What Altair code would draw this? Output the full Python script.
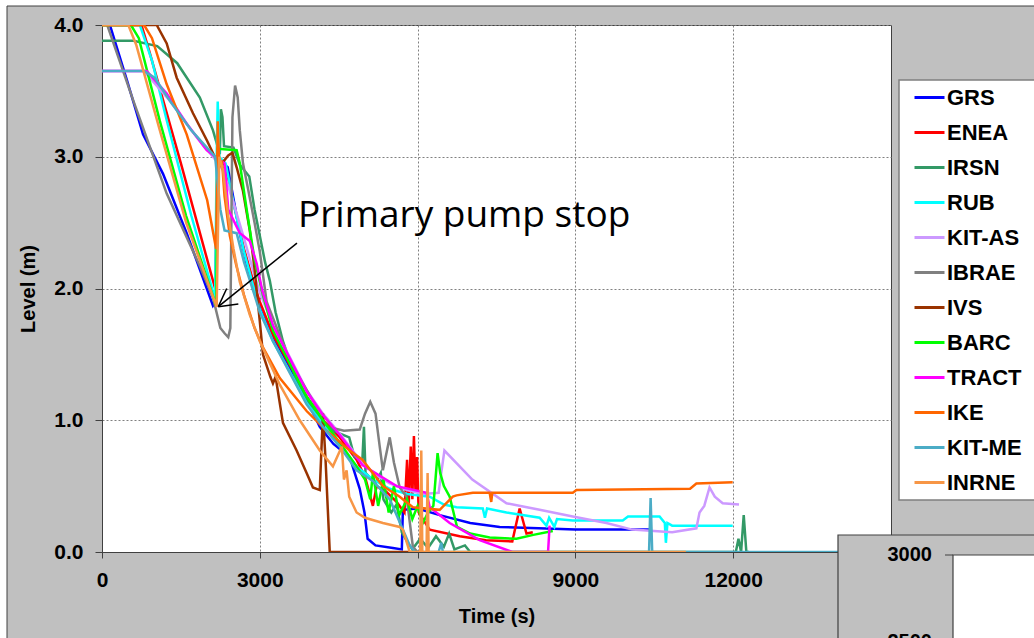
import altair as alt
import pandas as pd

# ---------------- data (time s, level m) ----------------
SERIES = ["GRS", "ENEA", "IRSN", "RUB", "KIT-AS", "IBRAE", "IVS", "BARC",
          "TRACT", "IKE", "KIT-ME", "INRNE"]
COLORS = ["#0000ff", "#ff0000", "#339966", "#00ffff", "#cc99ff", "#808080",
          "#993300", "#00ff00", "#ff00ff", "#ff6600", "#4bacc6", "#f79646"]

GRS = [(150, 4.0), (475, 3.58), (780, 3.17), (1160, 2.87), (1610, 2.42), (2110, 1.87),
       (2160, 1.9), (2200, 2.98), (2390, 2.92), (2620, 2.42), (2800, 2.1), (3000, 1.85),
       (3250, 1.62), (3570, 1.4), (3890, 1.16), (4140, 0.95), (4400, 0.82), (4710, 0.72),
       (4900, 0.48), (4990, 0.3), (5050, 0.1), (5200, 0.05), (5530, 0.03), (5700, 0.02),
       (5720, 0.32), (6000, 0.33), (6420, 0.28), (7000, 0.22), (7560, 0.19), (8300, 0.18),
       (9000, 0.17), (10400, 0.17)]
ENEA = [(0, 4.0), (750, 4.0), (900, 3.8), (1500, 2.95), (2150, 2.0), (2200, 2.95),
        (2350, 2.9), (2500, 2.65), (2700, 2.3), (2900, 2.02), (3000, 1.9), (3250, 1.65),
        (3570, 1.42), (3890, 1.18), (4200, 1.0), (4520, 0.87), (4840, 0.7), (5000, 0.57),
        (5150, 0.35), (5220, 0.5), (5400, 0.46), (5600, 0.38), (5750, 0.3), (5800, 0.7),
        (5830, 0.35), (5870, 0.8), (5900, 0.4), (5930, 0.88), (5960, 0.45), (5990, 0.72),
        (6020, 0.3), (6100, 0.25), (6230, 0.17), (6800, 0.12), (7300, 0.09), (7800, 0.08),
        (7940, 0.33), (8070, 0.14), (8190, 0.15)]
IRSN = [(0, 3.88), (600, 3.88), (1050, 3.84), (1430, 3.71), (1860, 3.45), (2110, 3.2),
        (2240, 3.02), (2260, 3.36), (2290, 3.3), (2320, 3.08), (2500, 3.07), (2620, 2.94),
        (2800, 2.85), (2900, 2.6), (3000, 2.4), (3100, 2.2), (3190, 2.06), (3300, 1.82),
        (3440, 1.6), (3700, 1.3), (3900, 1.15), (4140, 1.0), (4400, 0.92), (4700, 0.87),
        (4800, 0.72), (4950, 0.7), (4980, 0.95), (5010, 0.6), (5200, 0.52), (5300, 0.6),
        (5350, 0.4), (5500, 0.3), (5600, 0.36), (5700, 0.15), (5800, 0.08), (5900, 0.02),
        (6050, 0.1), (6200, 0.03), (6350, 0.12), (6500, 0.04), (6600, 0.14), (6700, 0.02),
        (6900, 0.05), (7000, 0.0), (12050, 0.0), (12100, 0.1), (12150, 0.0), (12200, 0.28),
        (12250, 0.0), (12300, 0.0)]
RUB = [(0, 4.0), (720, 4.0), (950, 3.73), (1235, 3.27), (1700, 2.55), (2150, 1.92),
       (2180, 3.0), (2200, 3.42), (2230, 3.0), (2350, 2.95), (2500, 2.65), (2700, 2.28),
       (2900, 1.98), (3000, 1.84), (3250, 1.6), (3570, 1.37), (3890, 1.13), (4200, 0.97),
       (4520, 0.82), (4840, 0.65), (5150, 0.55), (5470, 0.48), (5800, 0.44), (6230, 0.42),
       (6500, 0.36), (6740, 0.34), (7240, 0.33), (7280, 0.26), (7320, 0.33), (7690, 0.3),
       (8320, 0.26), (8450, 0.2), (8500, 0.26), (8600, 0.19), (8650, 0.25), (8950, 0.24),
       (9900, 0.24), (10000, 0.27), (10600, 0.27), (10700, 0.22), (10720, 0.07),
       (10750, 0.22), (10840, 0.2), (11990, 0.2)]
KIT_AS = [(0, 3.65), (800, 3.65), (1300, 3.42), (1800, 3.15), (2150, 2.98), (2300, 2.9),
          (2500, 2.65), (2700, 2.38), (2900, 2.1), (3000, 1.97), (3250, 1.72), (3570, 1.48),
          (3890, 1.23), (4200, 1.05), (4520, 0.9), (4840, 0.73), (5150, 0.6), (5470, 0.52),
          (5800, 0.47), (6100, 0.44), (6400, 0.45), (6450, 0.6), (6510, 0.77), (7040, 0.55),
          (7690, 0.37), (8320, 0.32), (8950, 0.27), (9590, 0.22), (10080, 0.17),
          (10840, 0.15), (11300, 0.18), (11360, 0.3), (11450, 0.35), (11550, 0.49),
          (11650, 0.42), (11800, 0.37), (12110, 0.36)]
IBRAE = [(100, 4.0), (600, 3.42), (1230, 2.72), (1860, 2.17), (2110, 1.93), (2250, 1.7),
         (2330, 1.66), (2400, 1.63), (2440, 1.7), (2480, 3.3), (2530, 3.54), (2580, 3.45),
         (2620, 3.2), (2680, 2.95), (2780, 2.75), (2900, 2.5), (3000, 2.28), (3130, 1.9),
         (3570, 1.45), (4080, 1.1), (4400, 0.94), (4600, 0.92), (4900, 0.93), (5000, 1.05),
         (5100, 1.14), (5200, 1.05), (5280, 0.8), (5340, 0.62), (5470, 0.87), (5550, 0.68),
         (5660, 0.49), (5790, 0.42), (5910, 0.04), (6000, 0.0)]
IVS = [(0, 4.0), (1040, 4.0), (1230, 3.86), (1420, 3.6), (1730, 3.33), (2000, 3.12),
       (2180, 2.97), (2300, 2.96), (2400, 3.01), (2480, 3.03), (2560, 2.92), (2680, 2.74),
       (2810, 2.44), (2900, 2.15), (3000, 1.75), (3060, 1.5), (3200, 1.33), (3250, 1.28),
       (3300, 1.33), (3440, 0.98), (3700, 0.77), (3890, 0.6), (4010, 0.49), (4140, 0.47),
       (4200, 1.05), (4250, 0.7), (4330, 0.0), (5900, 0.0)]
BARC = [(0, 4.0), (550, 4.0), (700, 3.9), (1100, 3.27), (1600, 2.55), (2170, 1.87),
        (2200, 3.06), (2560, 3.05), (2620, 2.95), (2750, 2.6), (2900, 2.22), (3060, 1.95),
        (3250, 1.68), (3570, 1.43), (3890, 1.18), (4200, 1.0), (4520, 0.83), (4840, 0.65),
        (5000, 0.55), (5100, 0.4), (5150, 0.6), (5250, 0.35), (5350, 0.55), (5450, 0.3),
        (5550, 0.5), (5650, 0.28), (5800, 0.4), (5900, 0.25), (6000, 0.35), (6100, 0.22),
        (6200, 0.3), (6300, 0.35), (6380, 0.75), (6430, 0.6), (6500, 0.5), (6610, 0.42),
        (6750, 0.19), (7000, 0.14), (7370, 0.11), (7880, 0.1), (8200, 0.13), (8570, 0.16)]
TRACT = [(0, 3.65), (850, 3.65), (1230, 3.48), (1610, 3.25), (1990, 3.05), (2150, 3.0),
         (2330, 2.95), (2400, 2.6), (2620, 2.42), (2810, 2.36), (2940, 2.19), (3050, 1.98),
         (3250, 1.72), (3570, 1.47), (3890, 1.22), (4200, 1.04), (4520, 0.89), (4950, 0.66),
         (5600, 0.5), (6170, 0.45), (6230, 0.34), (6610, 0.22), (7180, 0.09), (7800, 0.0),
         (8480, 0.0), (8510, 0.2)]
IKE = [(0, 4.0), (800, 4.0), (950, 3.9), (1230, 3.55), (1610, 3.17), (2000, 2.67),
       (2170, 2.3), (2200, 3.27), (2230, 2.92), (2280, 2.97), (2330, 2.7), (2430, 2.4),
       (2550, 2.18), (2700, 1.95), (2900, 1.7), (3050, 1.56), (3380, 1.32), (3890, 1.07),
       (4270, 0.92), (4710, 0.77), (4950, 0.7), (5340, 0.5), (5660, 0.42), (5910, 0.34),
       (6420, 0.32), (6670, 0.42), (6740, 0.43), (7050, 0.45), (7370, 0.45), (7400, 0.38),
       (7420, 0.45), (8950, 0.45), (9020, 0.47), (11180, 0.48), (11300, 0.52), (11990, 0.53)]
KIT_ME = [(0, 3.65), (800, 3.65), (1000, 3.6), (1300, 3.42), (1700, 3.2), (2150, 3.0),
          (2250, 2.6), (2330, 2.44), (2560, 2.42), (2700, 2.2), (2900, 1.95), (3000, 1.82),
          (3250, 1.6), (3570, 1.36), (3890, 1.12), (4200, 0.95), (4520, 0.8), (4840, 0.62),
          (5150, 0.54), (5470, 0.4), (5720, 0.17), (5850, 0.05), (5950, 0.0), (6400, 0.0),
          (6450, 0.07), (6480, 0.0), (10400, 0.0), (10430, 0.41), (10460, 0.0), (15000, 0.0)]
INRNE = [(0, 4.0), (500, 4.0), (650, 3.85), (1100, 3.2), (1600, 2.5), (2180, 1.86),
         (2230, 3.0), (2300, 2.9), (2400, 2.55), (2500, 2.3), (2620, 2.05), (2810, 1.8),
         (3000, 1.6), (3380, 1.27), (3760, 1.0), (4140, 0.77), (4390, 0.65), (4560, 0.8),
         (4600, 0.55), (4650, 0.62), (4700, 0.42), (4840, 0.3), (5000, 0.26), (5340, 0.22),
         (5660, 0.19), (5720, 0.17), (5850, 0.0), (6050, 0.0), (6070, 0.77), (6090, 0.0),
         (6170, 0.0), (6190, 0.6), (6210, 0.0), (11100, 0.0)]

DATA = {"GRS": GRS, "ENEA": ENEA, "IRSN": IRSN, "RUB": RUB, "KIT-AS": KIT_AS,
        "IBRAE": IBRAE, "IVS": IVS, "BARC": BARC, "TRACT": TRACT, "IKE": IKE,
        "KIT-ME": KIT_ME, "INRNE": INRNE}

X_TICKS = [0, 3000, 6000, 9000, 12000]
Y_TICKS = [0, 1, 2, 3, 4]

ANNOT_TEXT = ["Primary pump stop"]
ANNOT_POS = [(3726, 2.467)]
ARROW = [((3707, 2.345), (2211, 1.862)),
         ((2211, 1.862), (2371, 2.0)),
         ((2211, 1.862), (2592, 1.882))]

# ---------------- build tables ----------------
rows = []
for name in SERIES:
    for i, (t, lv) in enumerate(DATA[name]):
        rows.append({"series": name, "t": t, "level": lv, "i": i})
df = pd.DataFrame(rows)

arrow_df = pd.DataFrame([{"t": a[0], "level": a[1], "t2": b[0], "level2": b[1]}
                         for a, b in ARROW])
text_df = pd.DataFrame([{"t": p[0], "level": p[1], "label": s}
                        for s, p in zip(ANNOT_TEXT, ANNOT_POS)])
one = pd.DataFrame({"k": [0]})

FONT = "Liberation Sans"
xscale = alt.Scale(domain=[0, 15000], nice=False, zero=False)
yscale = alt.Scale(domain=[0, 4], nice=False)
XT = "Time (s)"
YT = "Level (m)"

lines = alt.Chart(df).mark_line(strokeWidth=2.5, clip=True).encode(
    x=alt.X("t:Q", scale=xscale, title=XT,
            axis=alt.Axis(values=X_TICKS, format="d")),
    y=alt.Y("level:Q", scale=yscale, title=YT,
            axis=alt.Axis(values=Y_TICKS, format=".1f")),
    color=alt.Color("series:N", scale=alt.Scale(domain=SERIES, range=COLORS),
                    legend=alt.Legend(orient="none", legendX=811, legendY=56, title=None,
                                      labelFont=FONT, labelFontWeight="bold",
                                      labelFontSize=22, labelColor="black",
                                      symbolType="stroke", symbolSize=900,
                                      symbolStrokeWidth=3, labelOffset=1,
                                      rowPadding=7, padding=0, zindex=1,
                                      labelLimit=300)),
    order="i:Q",
)

arrow = alt.Chart(arrow_df).mark_rule(color="black", strokeWidth=1.5).encode(
    x=alt.X("t:Q", scale=xscale, title=XT), y=alt.Y("level:Q", scale=yscale, title=YT),
    x2="t2:Q", y2="level2:Q")

annot = alt.Chart(text_df).mark_text(align="left", baseline="alphabetic",
                                     font="Open Sans", fontSize=37, color="black").encode(
    x=alt.X("t:Q", scale=xscale, title=XT), y=alt.Y("level:Q", scale=yscale, title=YT),
    text="label:N")


def rect(x1, y1, x2, y2, fill, stroke=None, sw=1.0):
    kw = {"fill": fill}
    if stroke:
        kw.update(stroke=stroke, strokeWidth=sw)
    else:
        kw.update(strokeWidth=0)
    return alt.Chart(one).mark_rect(**kw).encode(
        x=alt.value(x1), x2=alt.value(x2), y=alt.value(y1), y2=alt.value(y2))


# decorations in pixels relative to the plot origin (102, 25)
white_left = rect(-102, -25, -95, 613, "white")
white_top = rect(-102, -25, 932, -19, "white")
frame = rect(-95, -19, 1000, 700, "transparent", "#404040", 1)
inset_bg = rect(736, 510, 1000, 700, "#c0c0c0", "#404040", 1.2)
inset_plot = rect(851, 530, 1000, 700, "white", "#404040", 1.2)
inset_tick = alt.Chart(one).mark_rule(color="#404040", strokeWidth=1).encode(
    x=alt.value(843), x2=alt.value(851), y=alt.value(530))
inset_t1 = alt.Chart(one).mark_text(align="right", baseline="middle", font=FONT,
                                    fontWeight="bold", fontSize=20, color="black",
                                    text="3000").encode(x=alt.value(830), y=alt.value(530))
inset_t2 = alt.Chart(one).mark_text(align="right", baseline="middle", font=FONT,
                                    fontWeight="bold", fontSize=20, color="black",
                                    text="2500").encode(x=alt.value(830), y=alt.value(617))
legend_box = rect(797, 55, 960, 475, "white", "#7f7f7f", 1.5)

chart = alt.layer(
    white_left, white_top, frame, lines, arrow, annot,
    inset_bg, inset_plot, inset_tick, inset_t1, inset_t2, legend_box
).properties(
    width=789, height=527, autosize="none",
    padding={"left": 102, "top": 25, "right": 143, "bottom": 86},
).configure(
    background="#c0c0c0"
).configure_view(
    fill="white", stroke="#404040", strokeWidth=1
).configure_axis(
    labelFont=FONT, labelFontWeight="bold", labelFontSize=21, labelColor="black",
    titleFont=FONT, titleFontWeight="bold", titleFontSize=20, titleColor="black",
    domainColor="#404040", tickColor="#404040", gridColor="#808080",
    gridDash=[2, 2], gridWidth=1, labelFlush=False, labelOverlap=False,
).configure_axisX(
    tickSize=6, labelPadding=11, titlePadding=16
).configure_axisY(
    tickSize=7, labelPadding=12, titlePadding=15
)

chart.save("out.html", embed_options={"renderer": "svg", "actions": False})
